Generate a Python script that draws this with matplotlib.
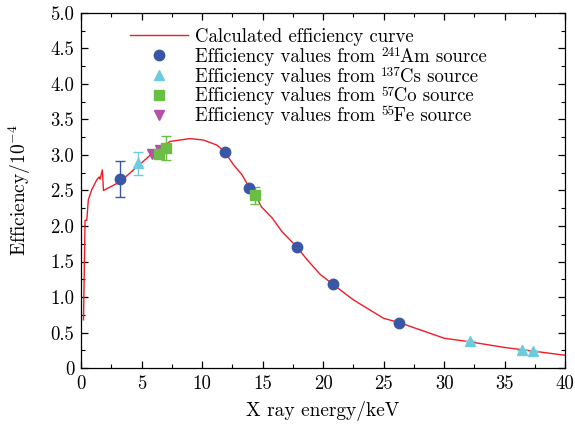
import matplotlib
matplotlib.use("Agg")
import matplotlib.pyplot as plt
import numpy as np

plt.rcParams['font.family'] = ['cmr10', 'DejaVu Serif']
plt.rcParams['mathtext.fontset'] = 'cm'
plt.rcParams['axes.formatter.use_mathtext'] = True

# Calculated efficiency curve
curve_x = [0.2, 0.33, 0.47, 0.6, 0.88, 1.3, 1.49, 1.57, 1.76, 1.85, 3.2, 4.6, 5.95, 7.36, 9.0,
           10.1, 11.2, 11.8, 12.6, 13.3, 13.8, 14.4, 14.9, 15.8, 16.6, 17.8, 18.65, 19.75,
           20.8, 22.5, 25.0, 26.3, 30.0, 32.1, 35.0, 37.3, 40.0]
curve_y = [0.68, 2.08, 2.08, 2.37, 2.51, 2.65, 2.69, 2.66, 2.79, 2.50, 2.62, 2.83, 3.03, 3.19, 3.23,
           3.21, 3.14, 3.06, 2.86, 2.72, 2.57, 2.44, 2.27, 2.11, 1.92, 1.71, 1.53, 1.32,
           1.18, 0.96, 0.70, 0.64, 0.42, 0.37, 0.29, 0.24, 0.18]

am_x = [3.2, 11.9, 13.9, 17.8, 20.8, 26.3]
am_y = [2.66, 3.04, 2.54, 1.70, 1.18, 0.64]
am_err = [0.25, 0, 0, 0, 0, 0]

cs_x = [4.7, 32.1, 36.4, 37.3]
cs_y = [2.88, 0.38, 0.26, 0.24]
cs_err = [0.16, 0, 0, 0]

co_x = [6.4, 7.0, 14.4]
co_y = [3.01, 3.10, 2.43]
co_err = [0, 0.17, 0.12]

fe_x = [5.9, 6.5]
fe_y = [3.01, 3.07]

yticks = [0, 0.5, 1.0, 1.5, 2.0, 2.5, 3.0, 3.5, 4.0, 4.5, 5.0]
ytick_labels = ['0', '0.5', '1.0', '1.5', '2.0', '2.5', '3.0', '3.5', '4.0', '4.5', '5.0']
xticks = [0, 5, 10, 15, 20, 25, 30, 35, 40]

curve_label = 'Calculated efficiency curve'
source_prefix = 'Efficiency values from'
source_isotopes = ['241', '137', '57', '55']
source_elements = ['Am source', 'Cs source', 'Co source', 'Fe source']

red = '#EE1C25'
blue = '#3A57A7'
cyan = '#6CCCDD'
green = '#6BBE45'
magenta = '#B452A4'

LEG_FS = 13.5
SUP_FS = 9.5
DPI = 100
W_IN, H_IN = 5.75, 4.28

fig = plt.figure(figsize=(W_IN, H_IN), dpi=DPI)
ax = fig.add_axes([0.141, 0.140, 0.842, 0.830])

l0, = ax.plot(curve_x, curve_y, color=red, lw=1.0, zorder=2)

e1 = ax.errorbar(am_x, am_y, yerr=np.array(am_err, float), fmt='o', color=blue, ms=7.5, capsize=3.5,
                 elinewidth=1.0, capthick=1.0, zorder=3)
e2 = ax.errorbar(cs_x, cs_y, yerr=np.array(cs_err, float), fmt='^', color=cyan, ms=7.5, capsize=3.5,
                 elinewidth=1.0, capthick=1.0, zorder=3)
e3 = ax.errorbar(co_x, co_y, yerr=np.array(co_err, float), fmt='s', color=green, ms=6.5, capsize=3.5,
                 elinewidth=1.0, capthick=1.0, zorder=3)
l4, = ax.plot(fe_x, fe_y, 'v', color=magenta, ms=7.5, zorder=3)

ax.set_xlim(0, 40)
ax.set_ylim(0, 5.0)
ax.set_xticks(xticks)
ax.set_xticklabels([str(t) for t in xticks])
ax.set_yticks(yticks)
ax.set_yticklabels(ytick_labels)
ax.set_xticks(np.arange(0, 40.01, 2.5), minor=True)
ax.set_yticks(np.arange(0, 5.01, 0.25), minor=True)
ax.tick_params(which='both', direction='in', top=True, right=True, labelsize=13.5)
ax.tick_params(which='major', length=5, width=0.9, pad=5)
ax.tick_params(which='minor', length=3, width=0.8)
for s in ax.spines.values():
    s.set_linewidth(0.9)

ax.set_xlabel('X ray energy/keV', fontsize=14, labelpad=6)
ax.set_ylabel(r'Efficiency/10$^{-4}$', fontsize=14, labelpad=12)

# measure text widths (pixels) to place superscripts inside legend labels
renderer = fig.canvas.get_renderer()
def text_width_px(s, fs):
    t = fig.text(0, 0, s, fontsize=fs)
    w = t.get_window_extent(renderer=renderer).width
    t.remove()
    return w

space_w = text_width_px('a a', LEG_FS) - text_width_px('aa', LEG_FS)
prefix_w = text_width_px(source_prefix, LEG_FS) + space_w

labels = [curve_label]
for iso, el in zip(source_isotopes, source_elements):
    sup_w = text_width_px(iso, SUP_FS)
    n = max(1, int(round(sup_w / space_w)))
    labels.append(source_prefix + ' ' + ' ' * n + el)

handles = [l0, e1[0], e2[0], e3[0], l4]
leg = ax.legend(handles, labels, loc='upper left', bbox_to_anchor=(0.07, 1.0), frameon=False,
                fontsize=LEG_FS, handlelength=3.1, handletextpad=0.35, labelspacing=0.1,
                borderpad=0.3)

fig.canvas.draw()
W_px, H_px = W_IN * DPI, H_IN * DPI
for txt, iso in zip(leg.get_texts()[1:], source_isotopes):
    bb = txt.get_window_extent(renderer=fig.canvas.get_renderer())
    fig.text((bb.x0 + prefix_w) / W_px, (bb.y1 + 1.0) / H_px, iso, fontsize=SUP_FS,
             ha='left', va='top')

fig.savefig('out.png', dpi=DPI)
